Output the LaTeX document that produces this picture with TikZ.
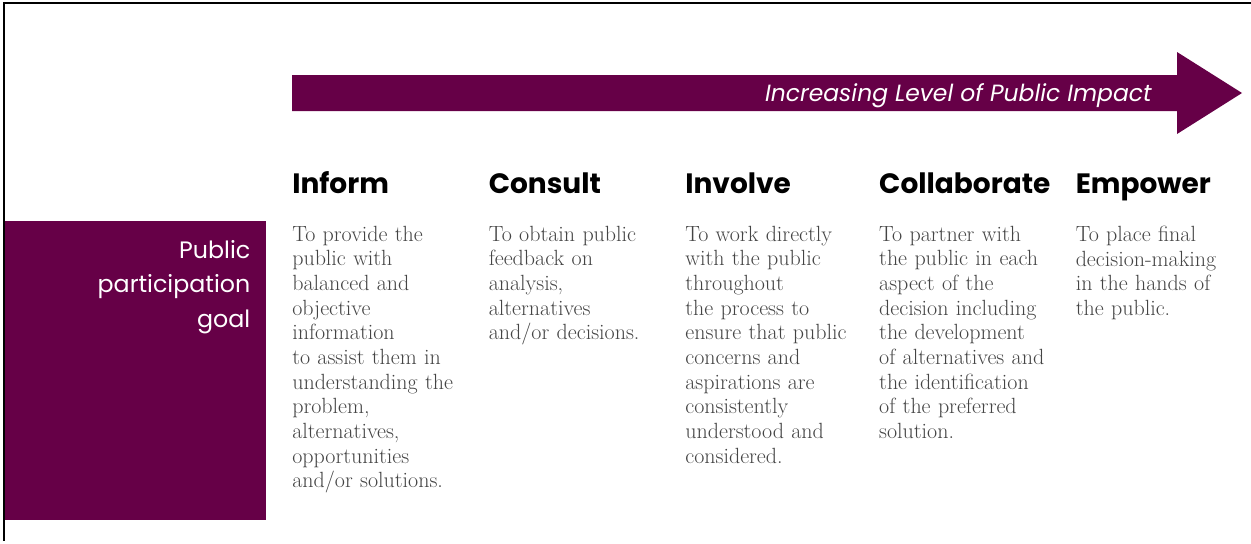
\documentclass[tikz,border=0pt]{standalone}
\usepackage{fontspec}
\usepackage{tikz}
\usetikzlibrary{positioning}

\newfontfamily\futurafont{Poppins}
\definecolor{iappurple}{RGB}{102,0,71}
\definecolor{bodygray}{RGB}{68,68,68}

\begin{document}
\begin{tikzpicture}[
    x=0.75pt, y=-0.75pt,
    stage/.style={inner sep=0pt, text width=132pt, align=left, font=\futurafont\bfseries\fontsize{21}{25}\selectfont},
    desc/.style={inner sep=0pt, text width=132pt, align=left, text=bodygray, font=\fontsize{16.5}{18.5}\selectfont},
    goalbox/.style={rectangle, fill=iappurple, minimum width=195.75pt, minimum height=224.25pt, inner sep=0pt},
    goallabel/.style={inner sep=0pt, align=right, text=white, font=\futurafont\fontsize{17.8}{26}\selectfont},
    impactlabel/.style={inner sep=0pt, text=white, font=\futurafont\itshape\fontsize{17.6}{22}\selectfont}
]
    \useasboundingbox (0,0) rectangle (1251,543);

    % Frame
    \draw[line width=1.5pt] (1251,3) -- (4,3) -- (4,541);

    % Impact arrow
    \fill[iappurple] (292,75) -- (1177,75) -- (1177,52) -- (1242,93) -- (1177,134) -- (1177,111) -- (292,111) -- cycle;
    \node[impactlabel, anchor=base east] (impact) at (1152,101) {Increasing Level of Public Impact};

    % Goal
    \node[goalbox, anchor=north west] (goal) at (5,221) {};
    \node[goallabel, below left=14pt and 12pt of goal.north east] (goallbl) {Public\\participation\\goal};

    % Stages
    \node[stage, anchor=base west] (inform) at (292,193) {Inform};
    \node[stage, base right=15pt of inform] (consult) {Consult};
    \node[stage, base right=15pt of consult] (involve) {Involve};
    \node[stage, base right=13pt of involve] (collab) {Collaborate};
    \node[stage, base right=15pt of collab] (empower) {Empower};

    % Descriptions
    \node[desc, below=24.5pt of inform.base west, anchor=north west] (informtxt) {To provide the\\public with\\balanced and\\objective\\information\\to assist them in\\understanding the\\problem,\\alternatives,\\opportunities\\and/or solutions.};
    \node[desc, below=24.5pt of consult.base west, anchor=north west] (consulttxt) {To obtain public\\feedback on\\analysis,\\alternatives\\and/or decisions.};
    \node[desc, below=24.5pt of involve.base west, anchor=north west] (involvetxt) {To work directly\\with the public\\throughout\\the process to\\ensure that public\\concerns and\\aspirations are\\consistently\\understood and\\considered.};
    \node[desc, below=24.5pt of collab.base west, anchor=north west] (collabtxt) {To partner with\\the public in each\\aspect of the\\decision including\\the development\\of alternatives and\\the identification\\of the preferred\\solution.};
    \node[desc, below=24.5pt of empower.base west, anchor=north west] (empowertxt) {To place final\\decision-making\\in the hands of\\the public.};

\end{tikzpicture}
\end{document}
